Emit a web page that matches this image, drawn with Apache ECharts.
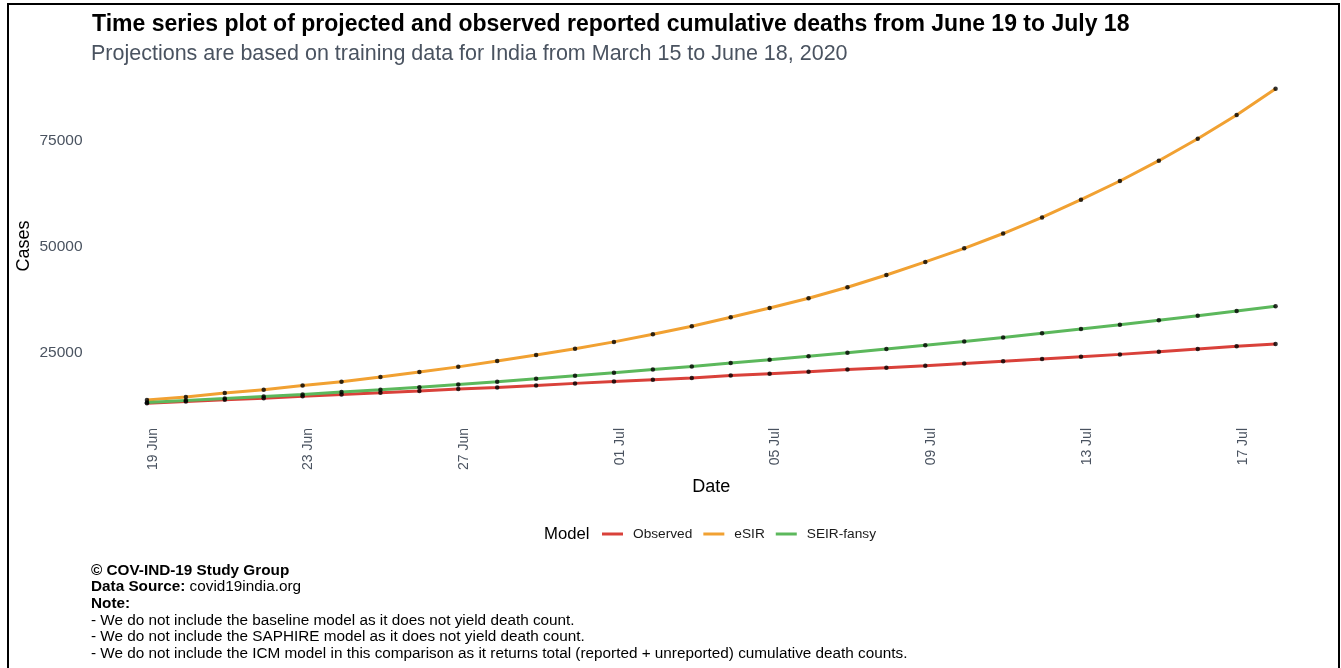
<!DOCTYPE html>
<html>
<head>
<meta charset="utf-8">
<title>Projected and observed cumulative deaths</title>
<script src="https://cdn.jsdelivr.net/npm/echarts@6/dist/echarts.min.js"></script>
<style>
  html, body { margin: 0; padding: 0; background: #ffffff; }
  #chart { width: 1341px; height: 668px; }
</style>
</head>
<body>
<div id="chart"></div>
<script>
// Dates: 19 Jun to 18 Jul 2020
const dateLabels = [
  '19 Jun', '20 Jun', '21 Jun', '22 Jun', '23 Jun', '24 Jun', '25 Jun', '26 Jun',
  '27 Jun', '28 Jun', '29 Jun', '30 Jun', '01 Jul', '02 Jul', '03 Jul', '04 Jul',
  '05 Jul', '06 Jul', '07 Jul', '08 Jul', '09 Jul', '10 Jul', '11 Jul', '12 Jul',
  '13 Jul', '14 Jul', '15 Jul', '16 Jul', '17 Jul', '18 Jul'
];
// Every fourth day gets a tick label
const tickDays = [0, 4, 8, 12, 16, 20, 24, 28];
const yTicks = [25000, 50000, 75000];

// Reported cumulative deaths
const observed = [
  13000, 13400, 13850, 14200, 14650, 15100, 15500, 15900, 16350, 16750,
  17200, 17700, 18150, 18550, 18950, 19550, 20000, 20450, 20950, 21400,
  21850, 22400, 22950, 23450, 24000, 24550, 25150, 25800, 26450, 27000
];
// eSIR projection
const esir = [
  13800, 14500, 15400, 16200, 17200, 18100, 19200, 20400, 21600, 23000,
  24400, 25900, 27500, 29300, 31200, 33300, 35500, 37800, 40400, 43300,
  46400, 49600, 53100, 56900, 61100, 65500, 70300, 75500, 81100, 87300
];
// SEIR-fansy projection
const seirFansy = [
  13200, 13650, 14100, 14600, 15100, 15650, 16200, 16800, 17450, 18100,
  18800, 19500, 20200, 20950, 21700, 22500, 23300, 24100, 24950, 25800,
  26700, 27600, 28550, 29550, 30550, 31550, 32600, 33700, 34800, 35900
];

const models = [
  { name: 'Observed', values: observed, color: '#d9413a' },
  { name: 'eSIR', values: esir, color: '#f1a132' },
  { name: 'SEIR-fansy', values: seirFansy, color: '#5cb85c' }
];

const FONT = '"Liberation Sans", Arial, Helvetica, sans-serif';

// Axis ranges padded by 5% on each side
const allValues = observed.concat(esir, seirFansy);
const yLo = Math.min(...allValues);
const yHi = Math.max(...allValues);
const yPad = (yHi - yLo) * 0.05;
const nDays = dateLabels.length - 1;
const xPad = nDays * 0.05;

const lineSeries = models.map((m, k) => ({
  name: m.name,
  type: 'line',
  data: m.values.map((v, i) => [i, v]),
  showSymbol: false,
  symbol: 'none',
  lineStyle: { color: m.color, width: 3 },
  itemStyle: { color: m.color },
  z: 2 + k
}));

const pointSeries = models.map(m => ({
  name: m.name + ' points',
  type: 'scatter',
  data: m.values.map((v, i) => [i, v]),
  symbol: 'circle',
  symbolSize: 4.5,
  itemStyle: { color: '#000000' },
  z: 10
}));

const chart = echarts.init(document.getElementById('chart'), null, { renderer: 'canvas' });

chart.setOption({
  animation: false,
  backgroundColor: '#ffffff',
  title: [
    {
      text: 'Time series plot of projected and observed reported cumulative deaths from June 19 to July 18',
      left: 92, top: 13, padding: 0,
      textStyle: { fontFamily: FONT, fontSize: 23, fontWeight: 'bold', color: '#000000' }
    },
    {
      text: 'Projections are based on training data for India from March 15 to June 18, 2020',
      left: 91, top: 43, padding: 0,
      textStyle: { fontFamily: FONT, fontSize: 21.5, fontWeight: 'normal', color: '#4a5360' }
    }
  ],
  legend: {
    data: models.map(m => ({ name: m.name, itemStyle: { color: m.color } })),
    left: 597, top: 522,
    icon: 'rect',
    itemWidth: 21, itemHeight: 3,
    itemGap: 11,
    textStyle: { fontFamily: FONT, fontSize: 13.7, color: '#1a1a1a', padding: [0, 0, 0, 5] }
  },
  grid: { left: 90.5, right: 9, top: 73, height: 346, containLabel: false },
  xAxis: {
    type: 'value',
    min: -xPad,
    max: nDays + xPad,
    name: 'Date',
    nameLocation: 'middle',
    nameGap: 55,
    nameTextStyle: { fontFamily: FONT, fontSize: 18, color: '#000000' },
    axisLine: { show: false },
    axisTick: { show: false },
    splitLine: { show: false },
    axisLabel: {
      customValues: tickDays,
      rotate: 90,
      margin: 9,
      fontFamily: FONT,
      fontSize: 14,
      color: '#4a5360',
      formatter: v => '{a|' + dateLabels[Math.round(v)] + '}',
      rich: { a: { fontFamily: FONT, fontSize: 14, color: '#4a5360', padding: [12, 0, 0, 0] } }
    }
  },
  yAxis: {
    type: 'value',
    min: yLo - yPad,
    max: yHi + yPad,
    name: 'Cases',
    nameLocation: 'middle',
    nameGap: 57,
    nameMoveOverlap: false,
    nameTextStyle: { fontFamily: FONT, fontSize: 18, color: '#000000' },
    axisLine: { show: false },
    axisTick: { show: false },
    splitLine: { show: false },
    axisLabel: {
      customValues: yTicks,
      margin: 8,
      fontFamily: FONT,
      fontSize: 15.5,
      color: '#4a5360',
      formatter: v => String(v)
    }
  },
  graphic: [
    {
      type: 'rect',
      shape: { x: 8, y: 4, width: 1331, height: 700 },
      style: { fill: 'none', stroke: '#000000', lineWidth: 2 },
      silent: true
    },
    {
      type: 'text',
      left: 544, top: 526,
      style: { text: 'Model', font: '16.7px ' + FONT, fill: '#000000' }
    },
    {
      type: 'text',
      left: 91, top: 562,
      style: {
        text: [
          '{b|© COV-IND-19 Study Group}',
          '{b|Data Source:} covid19india.org',
          '{b|Note:}',
          '- We do not include the baseline model as it does not yield death count.',
          '- We do not include the SAPHIRE model as it does not yield death count.',
          '- We do not include the ICM model in this comparison as it returns total (reported + unreported) cumulative death counts.'
        ].join('\n'),
        font: '15.3px ' + FONT,
        fill: '#000000',
        lineHeight: 16.7,
        rich: {
          b: { font: 'bold 15.3px ' + FONT, fill: '#000000', lineHeight: 16.7 }
        }
      }
    }
  ],
  series: lineSeries.concat(pointSeries)
});
</script>
</body>
</html>
